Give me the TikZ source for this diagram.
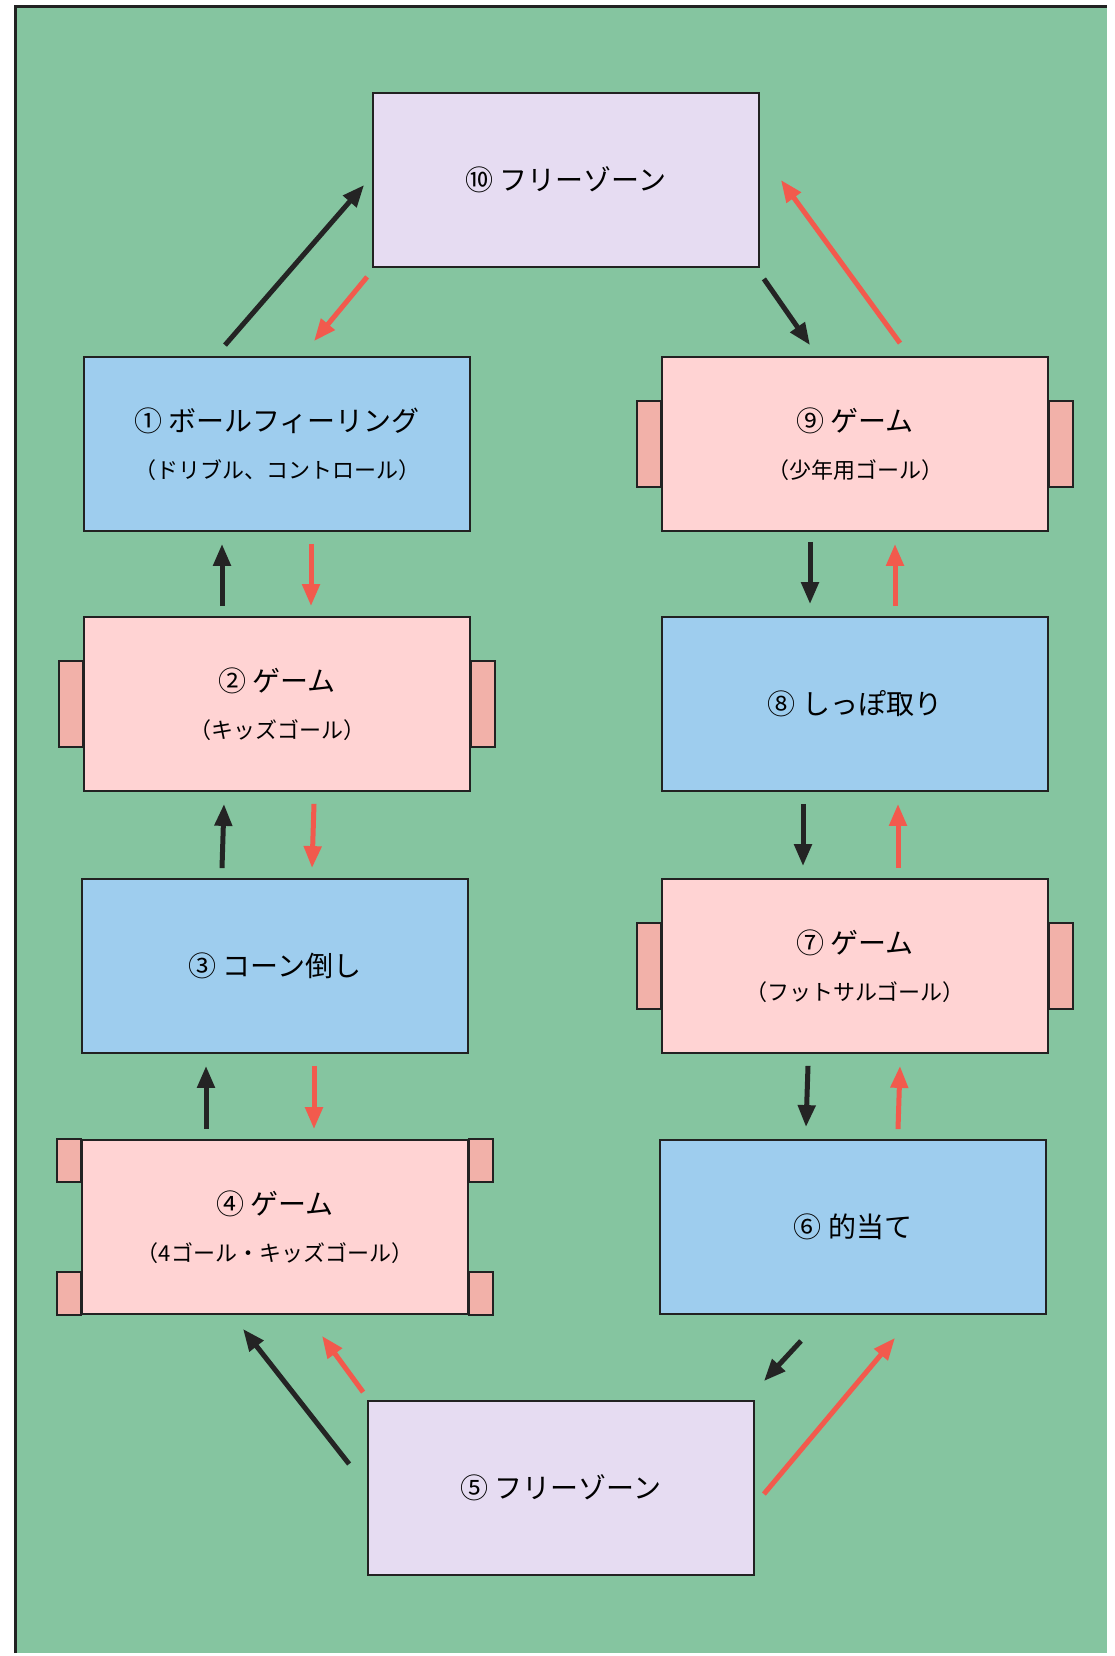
\documentclass[tikz,border=0pt]{standalone}
\usepackage{fontspec}
\setmainfont{Noto Sans CJK JP}
\usetikzlibrary{arrows.meta}
\definecolor{field}{HTML}{85C5A0}
\definecolor{drillblue}{HTML}{9ECDEE}
\definecolor{gamepink}{HTML}{FFD3D3}
\definecolor{goalpink}{HTML}{F2B1A9}
\definecolor{freelilac}{HTML}{E6DCF2}
\definecolor{boxline}{HTML}{222222}
\definecolor{arrowblack}{HTML}{242424}
\definecolor{arrowred}{HTML}{F25A4D}
\newcommand{\sub}[1]{{\fontsize{22}{47}\selectfont #1}}
\begin{document}
\begin{tikzpicture}[x=1pt,y=-1pt,
                    box/.style={rectangle,draw=boxline,line width=1.8pt,
                      minimum width=386pt,minimum height=174pt,inner sep=0pt,
                      align=center,font=\fontsize{28}{47}\selectfont},
                    drill/.style={box,fill=drillblue},
                    game/.style={box,fill=gamepink},
                    free/.style={box,fill=freelilac},
                    goal/.style={draw=boxline,line width=1.8pt,fill=goalpink},
                    onward/.style={-{Triangle[length=22pt,width=17pt]},
                      line width=5pt,draw=arrowblack},
                    backward/.style={onward,draw=arrowred}
                   ]
   \useasboundingbox (0,0) rectangle (1115,1656);
   \fill[white] (0,0) rectangle (1115,1656);
   \fill[field] (15,7) rectangle (1107,1653);
   \draw[boxline,line width=3pt] (15,1653) -- (15,7) -- (1107,7);

   \node[free]  (n10) at (566,180)  {⑩ フリーゾーン};
   \node[drill] (n1)  at (277,444)  {① ボールフィーリング\\\sub{（ドリブル、コントロール）}};
   \node[game]  (n2)  at (277,704)  {② ゲーム\\\sub{（キッズゴール）}};
   \node[drill] (n3)  at (275,966)  {③ コーン倒し};
   \node[game]  (n4)  at (275,1227) {④ ゲーム\\\sub{（4ゴール・キッズゴール）}};
   \node[free]  (n5)  at (561,1488) {⑤ フリーゾーン};
   \node[drill] (n6)  at (853,1227) {⑥ 的当て};
   \node[game]  (n7)  at (855,966)  {⑦ ゲーム\\\sub{（フットサルゴール）}};
   \node[drill] (n8)  at (855,704)  {⑧ しっぽ取り};
   \node[game]  (n9)  at (855,444)  {⑨ ゲーム\\\sub{（少年用ゴール）}};

   % goals on the game fields
   \foreach \g in {n2,n7,n9}{
     \draw[goal] ([xshift=-24pt,yshift=-43pt]\g.west) rectangle ([yshift=43pt]\g.west);
     \draw[goal] ([yshift=-43pt]\g.east) rectangle ([xshift=24pt,yshift=43pt]\g.east);
   }
   \draw[goal] ([xshift=-24pt]n4.north west) rectangle ([yshift=-43pt]n4.north west);
   \draw[goal] ([xshift=-24pt]n4.south west) rectangle ([yshift=43pt]n4.south west);
   \draw[goal] (n4.north east) rectangle ([xshift=24pt,yshift=-43pt]n4.north east);
   \draw[goal] (n4.south east) rectangle ([xshift=24pt,yshift=43pt]n4.south east);

   \path%
     ([xshift=-18pt,yshift=24pt]n5.west) edge[onward] ([xshift=-32pt,yshift=-14pt]n4.south)
     ([xshift=-69pt,yshift=10pt]n4.north) edge[onward] ([xshift=-69pt,yshift=-12pt]n3.south)
     ([xshift=-53pt,yshift=10pt]n3.north) edge[onward] ([xshift=-53pt,yshift=-12pt]n2.south)
     ([xshift=-55pt,yshift=10pt]n2.north) edge[onward] ([xshift=-55pt,yshift=-12pt]n1.south)
     ([xshift=-52pt,yshift=11pt]n1.north) edge[onward] ([xshift=-8pt,yshift=-5pt]n10.west)
     ([xshift=4pt,yshift=-11pt]n10.south east) edge[onward] ([xshift=-45pt,yshift=11pt]n9.north)
     ([xshift=-45pt,yshift=-10pt]n9.south) edge[onward] ([xshift=-45pt,yshift=12pt]n8.north)
     ([xshift=-52pt,yshift=-12pt]n8.south) edge[onward] ([xshift=-52pt,yshift=12pt]n7.north)
     ([xshift=-47pt,yshift=-12pt]n7.south) edge[onward] ([xshift=-47pt,yshift=12pt]n6.north)
     ([xshift=-52pt,yshift=-26pt]n6.south) edge[onward] ([xshift=9pt,yshift=19pt]n5.north east);

   \path%
     ([xshift=-5pt,yshift=-9pt]n10.south west) edge[backward] ([xshift=37pt,yshift=15pt]n1.north)
     ([xshift=34pt,yshift=-12pt]n1.south) edge[backward] ([xshift=34pt,yshift=10pt]n2.north)
     ([xshift=37pt,yshift=-12pt]n2.south) edge[backward] ([xshift=37pt,yshift=10pt]n3.north)
     ([xshift=39pt,yshift=-12pt]n3.south) edge[backward] ([xshift=39pt,yshift=10pt]n4.north)
     ([xshift=-4pt,yshift=8pt]n5.north west) edge[backward] ([xshift=47pt,yshift=-21pt]n4.south)
     ([xshift=9pt,yshift=-6pt]n5.east) edge[backward] ([xshift=42pt,yshift=-23pt]n6.south)
     ([xshift=45pt,yshift=10pt]n6.north) edge[backward] ([xshift=45pt,yshift=-12pt]n7.south)
     ([xshift=43pt,yshift=10pt]n7.north) edge[backward] ([xshift=43pt,yshift=-12pt]n8.south)
     ([xshift=40pt,yshift=10pt]n8.north) edge[backward] ([xshift=40pt,yshift=-12pt]n9.south)
     ([xshift=45pt,yshift=13pt]n9.north) edge[backward] ([xshift=21pt]n10.east);
\end{tikzpicture}
\end{document}
